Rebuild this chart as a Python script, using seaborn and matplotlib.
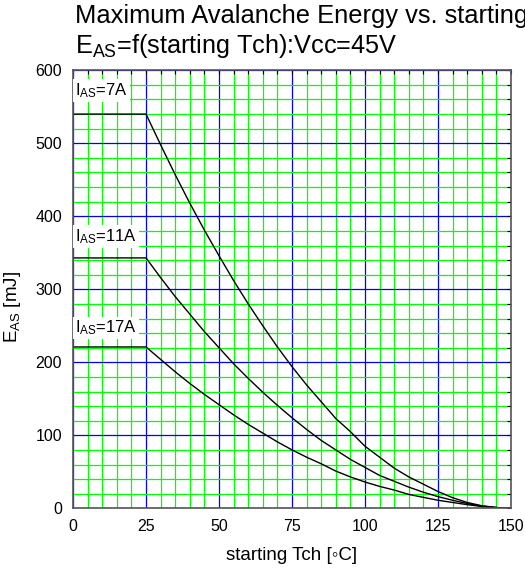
import matplotlib
matplotlib.use("Agg")
import matplotlib.pyplot as plt
import seaborn as sns
import pandas as pd
import numpy as np

# ---- data ----
tch = [0, 25, 30, 35, 40, 45, 50, 55, 60, 65, 70, 75, 80, 85, 90, 95, 100,
       105, 110, 115, 120, 125, 130, 135, 140, 145, 150]
eas_7a = [540, 540, 498, 457, 418, 381, 346, 312, 280, 250, 221, 194, 169, 146,
          123, 105, 85, 70, 55, 43, 33, 23, 14.5, 8, 3.5, 1, 0]
eas_11a = [343, 343, 316, 290, 266, 242, 220, 198, 178, 159, 141, 124, 108, 93,
           80, 67, 56, 45, 37, 29, 22, 16, 11, 6.5, 3, 1, 0]
eas_17a = [221, 221, 204, 187, 171, 156, 142, 128, 115, 103, 91, 80, 70, 61,
           51, 43, 36, 30, 25, 19, 15, 11, 8, 5, 2.5, 1, 0]
series_labels = ["I$_{\\rm AS}$=7A", "I$_{\\rm AS}$=11A", "I$_{\\rm AS}$=17A"]
label_y = [566, 366, 240.5]

x_major = [0, 25, 50, 75, 100, 125, 150]
y_major = [0, 100, 200, 300, 400, 500, 600]

sns.set_style("white")
plt.rcParams['font.family'] = ['Liberation Sans', 'DejaVu Sans']
plt.rcParams['mathtext.fontset'] = 'custom'
plt.rcParams['mathtext.rm'] = 'Liberation Sans'
plt.rcParams['mathtext.it'] = 'Liberation Sans:italic'
plt.rcParams['mathtext.bf'] = 'Liberation Sans:bold'
plt.rcParams['text.color'] = 'black'
plt.rcParams['axes.labelcolor'] = 'black'
plt.rcParams['xtick.color'] = 'black'
plt.rcParams['ytick.color'] = 'black'

rows = []
for lab, vals in zip(series_labels, [eas_7a, eas_11a, eas_17a]):
    for t, e in zip(tch, vals):
        rows.append({"Tch": t, "EAS": e, "curve": lab})
df = pd.DataFrame(rows)

W, H = 525, 571
fig = plt.figure(figsize=(W / 100, H / 100), dpi=100)
ax = fig.add_axes([73 / W, 1 - 508.3 / H, 438 / W, 438 / H])

sns.lineplot(data=df, x="Tch", y="EAS", hue="curve",
             palette=["black"] * 3, legend=False, linewidth=1.0,
             ax=ax, zorder=5)

ax.set_xlim(0, 150)
ax.set_ylim(0, 600)
ax.set_xticks(x_major)
ax.set_yticks(y_major)
ax.set_xticks(np.arange(0, 151, 5), minor=True)
ax.set_yticks(np.arange(0, 601, 20), minor=True)
ax.set_xticklabels([str(v) for v in x_major])
ax.set_yticklabels([str(v) for v in y_major])

ax.grid(which='minor', color='#00ff00', linewidth=0.9, zorder=1)
ax.grid(which='major', color='#0000ff', linewidth=0.9, zorder=2)
ax.set_axisbelow(True)

ax.tick_params(which='both', direction='in', top=True, right=True,
               length=3, width=0.8, color='black')
ax.tick_params(which='major', labelsize=11.5, pad=8, labelcolor='black')
for sp in ax.spines.values():
    sp.set_color('#555555')
    sp.set_linewidth(1.2)
    sp.set_zorder(6)

ax.set_xlabel("starting Tch [\u25e6C]", fontsize=13.5, labelpad=9, color='black')
ax.set_ylabel("E$_{\\rm AS}$ [mJ]", fontsize=13.5, labelpad=8, color='black')
ax.yaxis.set_label_coords(-0.115, 0.46)

for lab, yv in zip(series_labels, label_y):
    ax.text(0.6, yv, lab, fontsize=12, va='baseline', ha='left', zorder=7,
            color='black',
            bbox=dict(facecolor='white', edgecolor='none', pad=1.5))

fig.text(75 / W, 1 - 23.3 / H, "Maximum Avalanche Energy vs. starting",
         fontsize=18.4, va='baseline', ha='left', color='black')
fig.text(75 / W, 1 - 53.3 / H, "E$_{\\rm AS}$=f(starting Tch):Vcc=45V",
         fontsize=18.2, va='baseline', ha='left', color='black')

fig.savefig("out.png", dpi=100)
